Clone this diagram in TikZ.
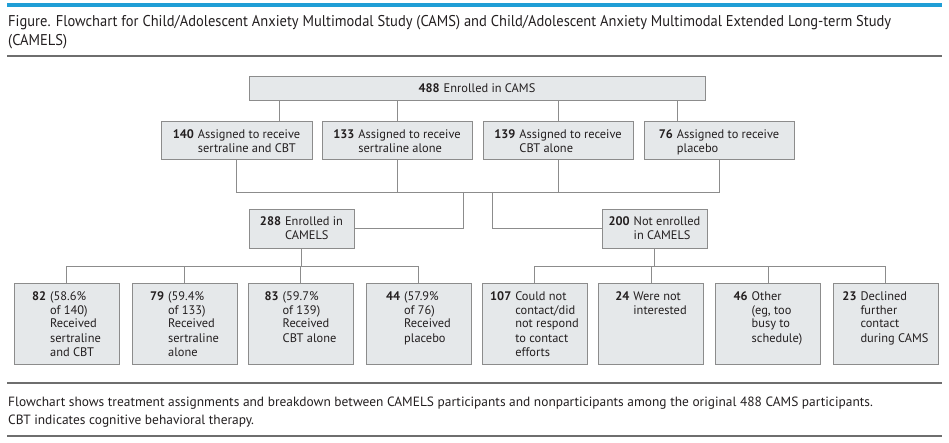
\documentclass[tikz,border=0pt]{standalone}
\usepackage{fontspec}
\setmainfont{PT Sans}
\newfontfamily\ttlfont[FakeStretch=0.93]{PT Sans}
\definecolor{boxc}{RGB}{229,232,234}
\definecolor{bordc}{RGB}{140,140,140}
\definecolor{linec}{RGB}{140,140,140}
\definecolor{jblue}{RGB}{32,158,214}
\definecolor{rulec}{RGB}{110,110,110}
\definecolor{txt}{RGB}{35,31,32}
\newcommand{\nb}[2]{\begin{tabular}[t]{@{}l@{\hspace{4pt}}l@{}}\textbf{#1}&#2\end{tabular}}
\begin{document}
\begin{tikzpicture}[x=1pt,y=-1pt,
  every node/.style={text=txt},
  bx/.style={draw=bordc, fill=boxc, line width=0.9pt, inner sep=0pt, align=left,
             font=\fontsize{12.4}{14}\selectfont},
  rowbox/.style={bx, minimum width=150pt, text height=17.5pt, text depth=20.5pt},
  midbox/.style={bx, minimum width=105pt, text height=17pt, text depth=22pt},
  botbox/.style={bx, minimum width=105pt, text height=17pt, text depth=64pt},
  conn/.style={draw=linec, line width=0.9pt},
  hrule/.style={draw=rulec, line width=1.6pt},
  ttltxt/.style={anchor=base west, inner sep=0pt, font=\ttlfont\fontsize{15.6}{18}\selectfont},
  captxt/.style={anchor=base west, inner sep=0pt, font=\fontsize{13.4}{16}\selectfont}]
\useasboundingbox[fill=white] (0,0) rectangle (949,443);

% rules
\draw[jblue, line width=3.5pt] (7,5) -- (942,5);
\draw[hrule] (7,56) -- (942,56);
\draw[hrule] (7,383) -- (942,383);
\draw[hrule] (7,436) -- (942,436);

% title and caption
\node[ttltxt] (title1) at (8,27) {Figure. Flowchart for Child/Adolescent Anxiety Multimodal Study (CAMS) and Child/Adolescent Anxiety Multimodal Extended Long-term Study};
\node[ttltxt] (title2) at (8,46) {(CAMELS)};
\node[captxt] (cap1) at (8,406) {Flowchart shows treatment assignments and breakdown between CAMELS participants and nonparticipants among the original 488 CAMS participants.};
\node[captxt] (cap2) at (8,424) {CBT indicates cognitive behavioral therapy.};

% top
\node[bx, minimum width=456pt, text height=16.5pt, text depth=7.5pt] (top) at (477,88) {\textbf{488}\hspace{4pt}Enrolled in CAMS};

% row
\node[rowbox, minimum width=151pt] (r1) at (236.5,140) {\nb{140}{Assigned to receive\\&sertraline and CBT}};
\node[rowbox] (r2) at (397,140) {\nb{133}{Assigned to receive\\&sertraline alone}};
\node[rowbox] (r3) at (558,140) {\nb{139}{Assigned to receive\\&CBT alone}};
\node[rowbox] (r4) at (719,140) {\nb{76}{Assigned to receive\\&placebo}};

% middle
\node[midbox] (e288) at (301.5,228.5) {\nb{288}{Enrolled in\\&CAMELS}};
\node[midbox] (n200) at (654.5,228.5) {\nb{200}{Not enrolled\\&in CAMELS}};

% bottom
\node[botbox] (b1) at (66.5,323.5) {\nb{82}{(58.6\%\\&of 140)\\&Received\\&sertraline\\&and CBT}};
\node[botbox] (b2) at (184.5,323.5) {\nb{79}{(59.4\%\\&of 133)\\&Received\\&sertraline\\&alone}};
\node[botbox] (b3) at (300.5,323.5) {\nb{83}{(59.7\%\\&of 139)\\&Received\\&CBT alone}};
\node[botbox] (b4) at (418.5,323.5) {\nb{44}{(57.9\%\\&of 76)\\&Received\\&placebo}};
\node[botbox] (b5) at (534.5,323.5) {\nb{107}{Could not\\&contact/did\\&not respond\\&to contact\\&efforts}};
\node[botbox] (b6) at (651,323.5) {\nb{24}{Were not\\&interested}};
\node[botbox] (b7) at (768,323.5) {\nb{46}{Other\\&(eg, too\\&busy to\\&schedule)}};
\node[botbox] (b8) at (885.5,323.5) {\nb{23}{Declined\\&further\\&contact\\&during CAMS}};

% helper coordinates
\coordinate (x1) at (279,0);
\coordinate (x4) at (677,0);
\coordinate (h1) at (0,192);
\coordinate (h2) at (0,266);
\coordinate (j1) at (463,192);
\coordinate (j2) at (492,192);

% connectors
\draw[conn] (top.south -| x1) -- (r1.north -| x1);
\draw[conn] (top.south -| r2.north) -- (r2.north);
\draw[conn] (top.south -| r3.north) -- (r3.north);
\draw[conn] (top.south -| x4) -- (r4.north -| x4);
\draw[conn] (r1.south) -- (r1.south |- h1) -- (r4.south |- h1) -- (r4.south);
\draw[conn] (r2.south) -- (r2.south |- h1);
\draw[conn] (r3.south) -- (r3.south |- h1);
\draw[conn] (j1) |- (e288.east);
\draw[conn] (j2) |- (n200.west);
\draw[conn] (e288.south) -- (e288.south |- h2);
\draw[conn] (b1.north) -- (b1.north |- h2) -- (b4.north |- h2) -- (b4.north);
\draw[conn] (b2.north) -- (b2.north |- h2);
\draw[conn] (b3.north) -- (b3.north |- h2);
\draw[conn] (n200.south) -- (n200.south |- h2);
\draw[conn] (b5.north) -- (b5.north |- h2) -- (b8.north |- h2) -- (b8.north);
\draw[conn] (b6.north) -- (b6.north |- h2);
\draw[conn] (b7.north) -- (b7.north |- h2);
\end{tikzpicture}
\end{document}
